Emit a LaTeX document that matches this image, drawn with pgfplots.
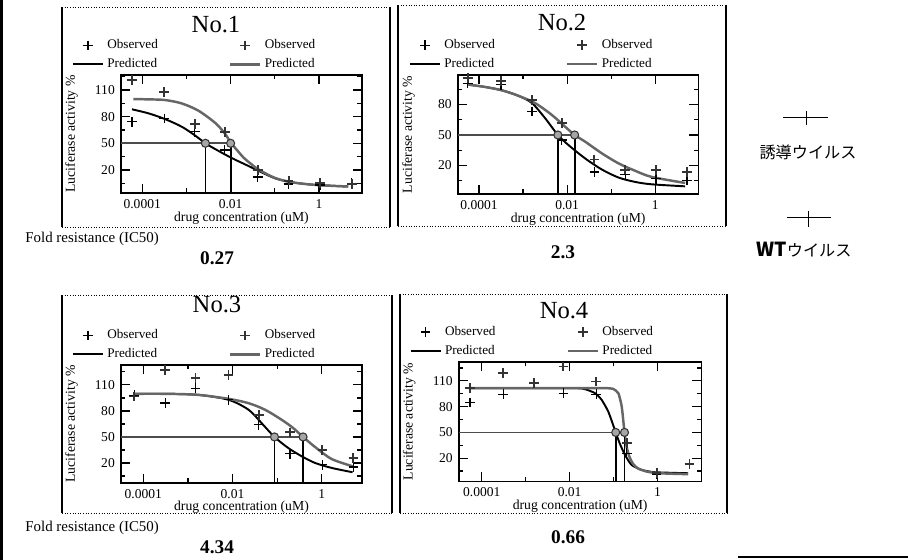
\documentclass[border=0pt]{standalone}
\usepackage{fontspec}
\setmainfont{Liberation Serif}
\newfontfamily\cjk{Noto Sans CJK JP}
\usepackage{pgfplots}
\pgfplotsset{compat=1.18}

\newcommand\fs[1]{\fontsize{#1}{#1}\selectfont}

% common look of the four dose-response panels (x in log10 uM)
\pgfplotsset{
  panel/.style={
    scale only axis, clip=false,
    xmin=-4.48, xmax=0.97,
    xtick={-4,-2,0}, xticklabels={0.0001,0.01,1},
    minor xtick={-3,-1,1},
    ytick={20,50,80,110}, minor ytick={5,35,65,95,125},
    tick align=inside,
    major tick length=0.18cm, minor tick length=0.09cm,
    every tick/.append style={black, line width=0.7pt},
    axis line style={line width=0.9pt},
    tick label style={font=\fs{7.7}},
    /pgf/number format/assume math mode=true,
    xlabel={drug concentration (uM)},
    ylabel={Luciferase activity \%},
    label style={font=\fs{7.8}},
    xlabel style={at={(axis description cs:0.5,-0.21)}, anchor=center},
    ylabel style={at={(axis description cs:-0.205,0.5)}, anchor=center},
    legend columns=2,
    legend cell align=left,
    legend style={draw=none, fill=none, at={(-0.205,1.31)}, anchor=north west,
      font=\fs{7.5}, inner sep=0pt, row sep=3pt,
      nodes={inner ysep=0.5pt},
      /tikz/every even column/.append style={column sep=1.35cm}},
  },
  obsA/.style={only marks, mark=+, mark size=2.8pt, mark options={line width=0.7pt}, black},
  obsB/.style={only marks, mark=+, mark size=2.8pt, mark options={line width=1.1pt}, black!80},
  predA/.style={black, line width=1.1pt, smooth, no marks},
  predB/.style={black!60, line width=1.4pt, smooth, no marks},
  icline/.style={black!70, line width=1pt, no marks, forget plot},
  icv/.style={black, line width=1pt, no marks, forget plot},
  icmark/.style={only marks, mark=*, mark size=2.3pt,
    mark options={fill=black!35, draw=black!80, line width=0.6pt}, forget plot},
}

\begin{document}
\begin{tikzpicture}

\begin{scope}[x=0.02cm, y=-0.02cm]
  \path[use as bounding box] (0,0) rectangle (908,560);
  \draw[line width=1.2pt] (1.5,0) -- (1.5,560);
  \draw[line width=1pt] (738,557) -- (908,557);
  % panel frames
  \foreach \l/\t/\r/\b in {62/7/390/227, 398/5/726/226, 62/295/392/513, 400/294/727/513} {
    \draw[densely dotted, line width=0.5pt] (\l,\t) -- (\r,\t) (\l,\b) -- (\r,\b);
    \draw[line width=0.6pt] (\l,\t) -- (\l,\b) (\r,\t) -- (\r,\b);
  }
  \node[font=\fs{14}] at (216,25) {No.1};
  \node[font=\fs{14}] at (562,23) {No.2};
  \node[font=\fs{14}] at (217,305) {No.3};
  \node[font=\fs{14}] at (564,311) {No.4};
  \node[font=\fs{8.5}, anchor=west, inner sep=0pt] at (25,239) {Fold resistance (IC50)};
  \node[font=\fs{8.5}, anchor=west, inner sep=0pt] at (25,528) {Fold resistance (IC50)};
  \node[font=\bfseries\fs{11}] at (217,258) {0.27};
  \node[font=\bfseries\fs{11}] at (563,252) {2.3};
  \node[font=\bfseries\fs{11}] at (217,547) {4.34};
  \node[font=\bfseries\fs{11}] at (568,537) {0.66};
  % key on the right
  \draw[line width=0.5pt] (783,117) -- (828,117) (806,111) -- (806,125);
  \node[font=\cjk\fs{9.2}] at (808,152) {誘導ウイルス};
  \draw[line width=0.5pt] (787,217) -- (831,217) (808,211) -- (808,227);
  \node[font=\cjk\fs{9.2}] at (804,250) {{\fs{11}\bfseries WT}ウイルス};
\end{scope}

% No.1
\begin{axis}[panel, at={(2.42cm,-3.86cm)}, anchor=south west,
  width=4.82cm, height=2.36cm, ymin=-6, ymax=127]
  \addplot[obsA] coordinates {(-4.23,74.4) (-3.50,78) (-2.81,63) (-2.13,42.5) (-1.39,12) (-0.69,4) (0.02,3) (0.74,5)};
  \addplot[obsB] coordinates {(-4.24,121.3) (-3.50,108) (-2.81,71.8) (-2.13,63) (-1.39,20) (-0.69,8) (0.02,5) (0.74,4)};
  \addplot[predA] coordinates {(-4.23,88.3) (-3.86,83.8) (-3.49,77.4) (-3.11,68.8) (-2.81,59) (-2.57,50) (-2.35,43.5) (-1.98,33.5) (-1.60,24.5) (-1.37,19) (-1.00,10.6) (-0.62,6.1) (-0.09,3.1) (0.66,1.25)};
  \addplot[predB] coordinates {(-4.20,99.9) (-3.86,99.5) (-3.49,98.8) (-3.11,95.0) (-2.73,86.8) (-2.35,73) (-2.13,61) (-2.00,51) (-1.85,42) (-1.70,33.5) (-1.52,26) (-1.37,20.5) (-1.00,11) (-0.62,6.1) (-0.09,3.1) (0.66,1.25)};
  \legend{Observed,Observed,Predicted,Predicted}
  \addplot[icline] coordinates {(-4.48,50) (-2.00,50)};
  \addplot[icv] coordinates {(-2.57,50) (-2.57,-6)};
  \addplot[icv] coordinates {(-2.00,50) (-2.00,-6)};
  \addplot[icmark] coordinates {(-2.57,50) (-2.00,50)};
\end{axis}

% No.2
\begin{axis}[panel, at={(9.16cm,-3.88cm)}, anchor=south west,
  width=4.81cm, height=2.38cm, xmax=0.98, ymin=-8, ymax=109]
  \addplot[obsA] coordinates {(-4.26,101) (-3.50,99.5) (-2.80,73.1) (-2.12,45) (-1.38,13.7) (-0.68,11.4) (0.02,7.1) (0.72,5.5)};
  \addplot[obsB] coordinates {(-4.26,106) (-3.50,102.8) (-2.80,84) (-2.12,61.6) (-1.38,25.9) (-0.68,16) (0.02,15.4) (0.72,13.7)};
  \addplot[predA] coordinates {(-4.24,99.5) (-3.86,97.2) (-3.48,93.9) (-3.11,88.6) (-2.80,81.4) (-2.50,66.5) (-2.21,50) (-1.97,40.1) (-1.59,26.9) (-1.21,16) (-0.83,8.1) (-0.45,3.8) (-0.08,1.5) (0.68,-0.5)};
  \addplot[predB] coordinates {(-4.24,99.5) (-3.86,97.2) (-3.48,93.9) (-3.11,88.6) (-2.73,81.4) (-2.35,69.8) (-2.05,58.3) (-1.83,50) (-1.59,43.4) (-1.21,31.9) (-0.83,22) (-0.45,14.7) (-0.08,8.75) (0.68,2.8)};
  \legend{Observed,Observed,Predicted,Predicted}
  \addplot[icline] coordinates {(-4.48,50) (-1.83,50)};
  \addplot[icv] coordinates {(-2.21,50) (-2.21,-8)};
  \addplot[icv] coordinates {(-1.83,50) (-1.83,-8)};
  \addplot[icmark] coordinates {(-2.21,50) (-1.83,50)};
\end{axis}

% No.3
\begin{axis}[panel, at={(2.42cm,-9.66cm)}, anchor=south west,
  width=4.82cm, height=2.36cm, xmin=-4.5, xmax=0.9, ymin=-3, ymax=133]
  \addplot[obsA] coordinates {(-4.20,98) (-3.51,89) (-2.83,106.2) (-2.09,92.8) (-1.41,64) (-0.71,30.7) (0.015,18) (0.71,15.4)};
  \addplot[obsB] coordinates {(-4.20,96.6) (-3.51,127) (-2.83,117.7) (-2.09,121.5) (-1.41,75.5) (-0.71,55.2) (0.015,35.3) (0.71,25.7)};
  \addplot[predA] coordinates {(-4.22,99.7) (-3.51,99.7) (-2.77,98.5) (-2.09,92.8) (-1.64,81.3) (-1.35,66) (-1.06,50) (-0.75,37.2) (-0.45,27.7) (-0.15,20) (0.22,14.3) (0.69,9.3)};
  \addplot[predB] coordinates {(-4.22,99.7) (-3.51,99.7) (-2.77,98.5) (-2.09,93.9) (-1.64,88.9) (-1.27,81.3) (-0.90,69.8) (-0.64,60.2) (-0.42,50) (-0.15,38.4) (0.22,24.6) (0.69,16.2)};
  \legend{Observed,Observed,Predicted,Predicted}
  \addplot[icline] coordinates {(-4.5,50) (-0.42,50)};
  \addplot[icv] coordinates {(-1.06,50) (-1.06,-3)};
  \addplot[icv] coordinates {(-0.42,50) (-0.42,-3)};
  \addplot[icmark] coordinates {(-1.06,50) (-0.42,50)};
\end{axis}

% No.4
\begin{axis}[panel, at={(9.18cm,-9.63cm)}, anchor=south west,
  width=4.85cm, height=2.39cm, xmin=-4.52, xmax=1.0, ymin=-7, ymax=132]
  \addplot[obsA] coordinates {(-4.27,84.8) (-3.51,94.5) (-2.14,95.6) (-1.39,94.5) (-0.70,25.8) (-0.02,1.4)};
  \addplot[obsB] coordinates {(-4.27,101.5) (-3.51,118.9) (-2.81,107.3) (-2.14,126.7) (-1.39,109.2) (-0.70,37.4) (-0.02,2.5) (0.73,13)};
  \addplot[predA, tension=0.35] coordinates {(-4.30,101.5) (-1.95,101.5) (-1.65,100.3) (-1.42,95.6) (-1.27,87.9) (-1.12,74.3) (-1.01,58.8) (-0.95,50) (-0.86,37.4) (-0.74,23.9) (-0.59,12.2) (-0.36,6.4) (-0.06,3.7) (0.70,2.5)};
  \addplot[predB, tension=0.35] coordinates {(-4.30,101.5) (-3.09,101.5) (-1.95,101.5) (-1.20,101.5) (-1.01,100.7) (-0.89,95.6) (-0.82,82.1) (-0.79,70) (-0.75,50) (-0.70,33) (-0.64,22) (-0.55,13) (-0.44,8) (-0.25,4.5) (0.02,2.5) (0.70,1.4)};
  \legend{Observed,Observed,Predicted,Predicted}
  \addplot[icline] coordinates {(-4.52,50) (-0.75,50)};
  \addplot[icv] coordinates {(-0.95,50) (-0.95,-7)};
  \addplot[icv] coordinates {(-0.75,50) (-0.75,-7)};
  \addplot[icmark] coordinates {(-0.95,50) (-0.75,50)};
\end{axis}

\end{tikzpicture}
\end{document}
